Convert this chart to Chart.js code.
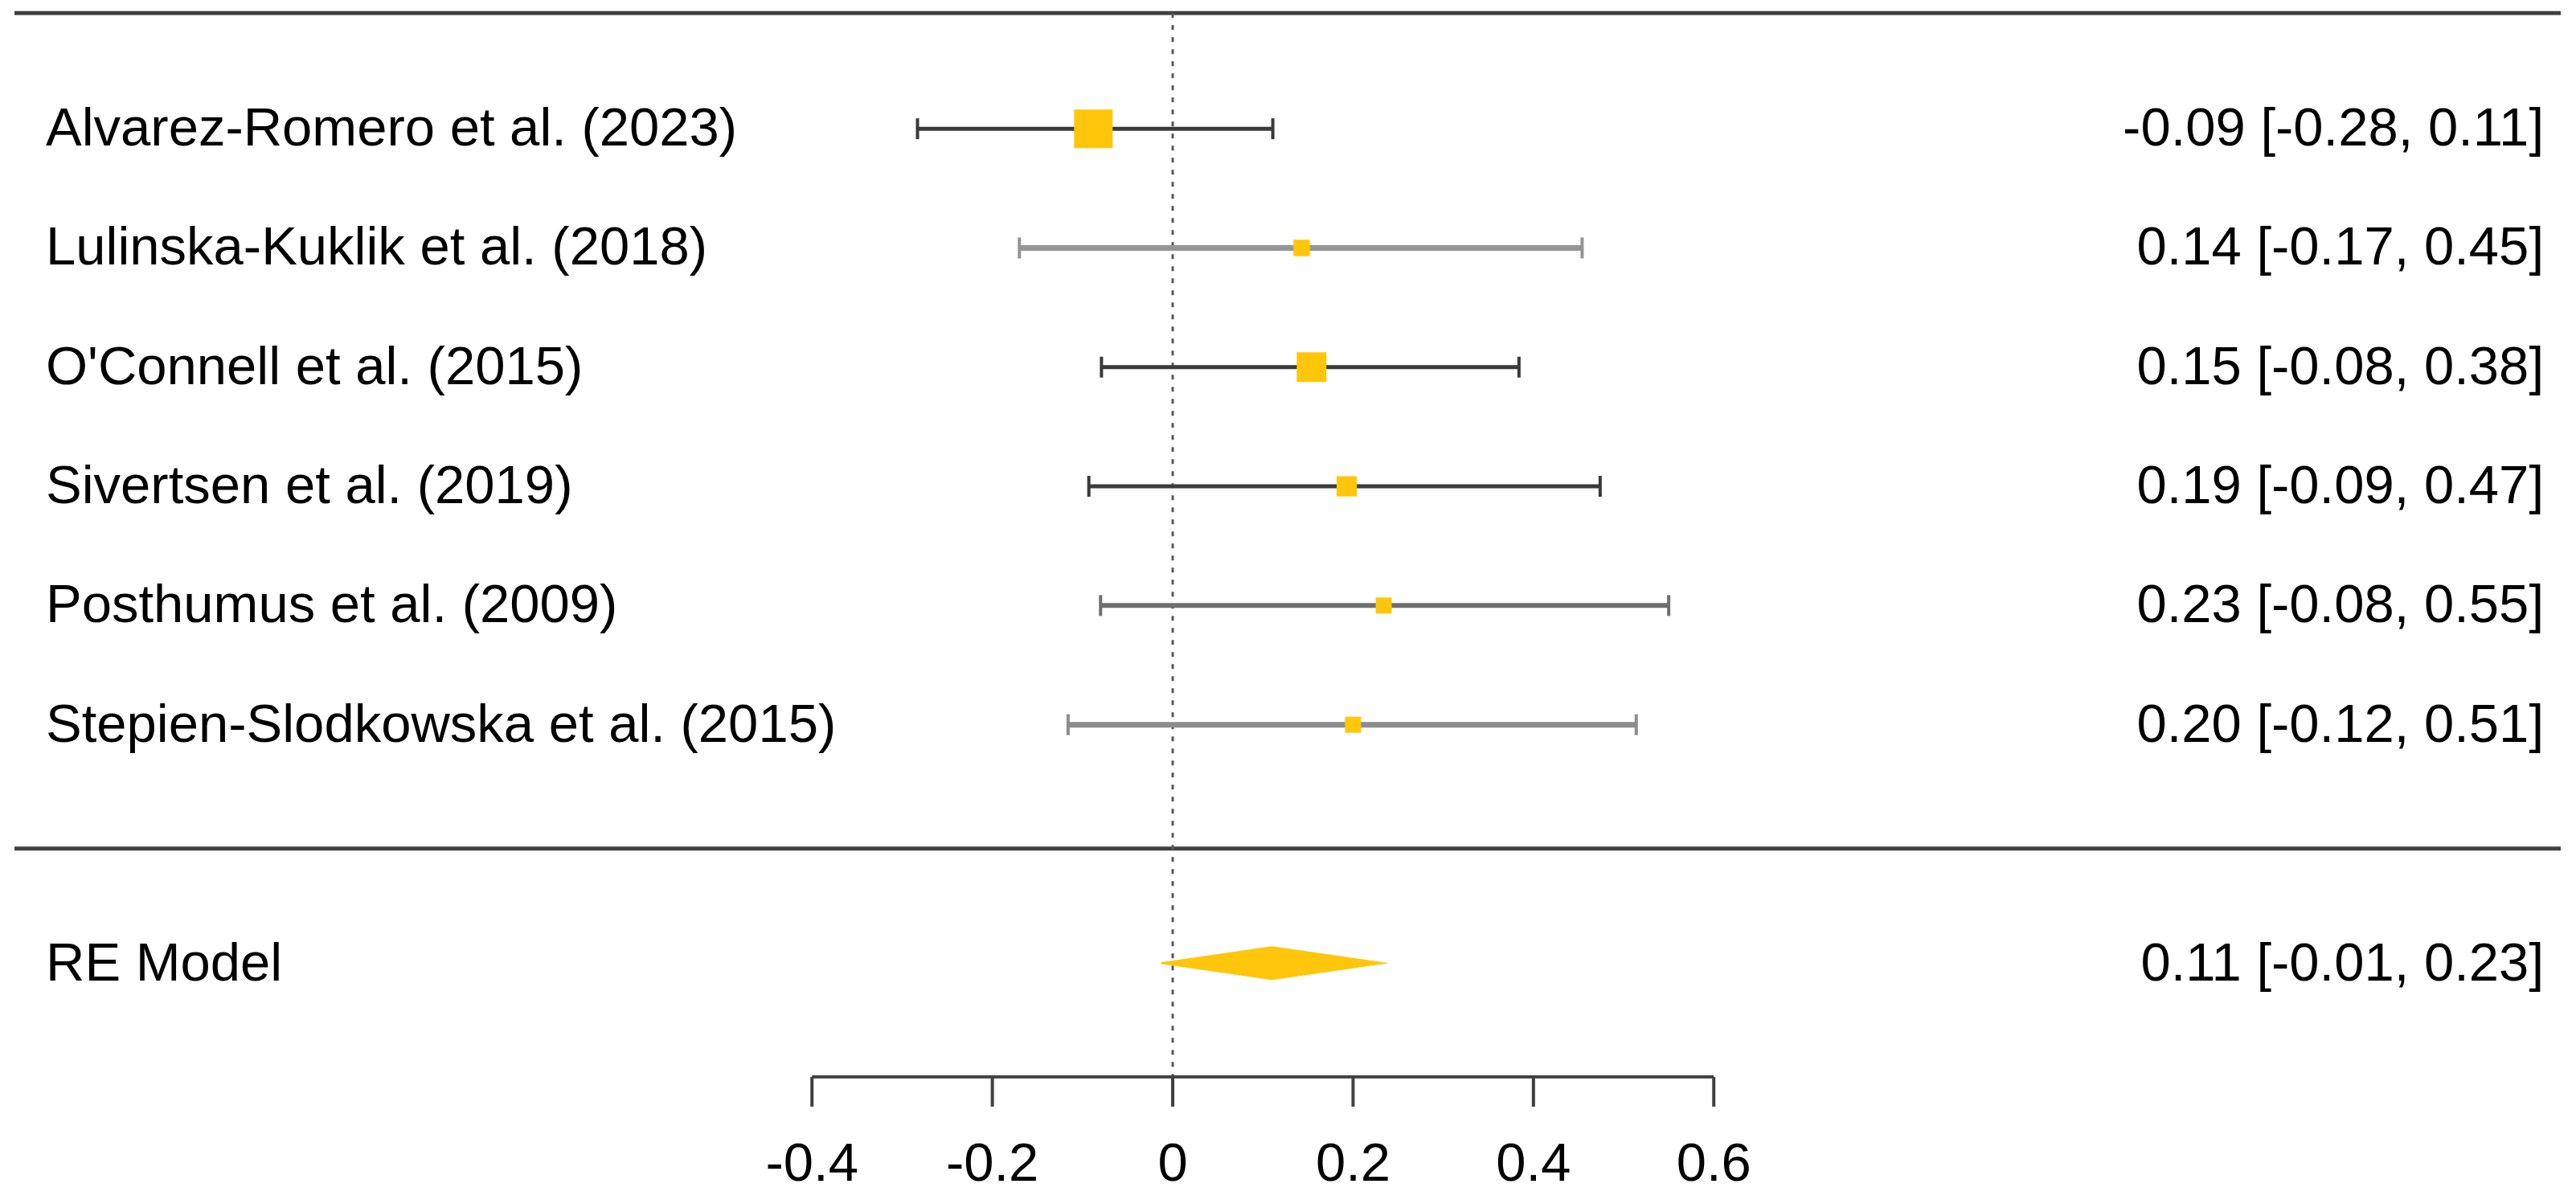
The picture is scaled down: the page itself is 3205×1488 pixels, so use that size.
<!DOCTYPE html>
<html>
<head>
<meta charset="utf-8">
<script src="https://cdn.jsdelivr.net/npm/chart.js@4.4.1/dist/chart.umd.min.js"></script>
<style>
    html, body { margin: 0; padding: 0; background: #ffffff; overflow: hidden; }
    #wrap { width: 3205px; height: 1488px; position: relative; }
</style>
</head>
<body>
<div id="wrap"><canvas id="forest"></canvas></div>
<script>
// Studies, top to bottom
const studies = [
    'Alvarez-Romero et al. (2023)',
    'Lulinska-Kuklik et al. (2018)',
    "O'Connell et al. (2015)",
    'Sivertsen et al. (2019)',
    'Posthumus et al. (2009)',
    'Stepien-Slodkowska et al. (2015)'
];
const rows = [6, 5, 4, 3, 2, 1];
const estimates = [-0.088, 0.143, 0.154, 0.193, 0.234, 0.20];
const lowerCI = [-0.283, -0.17, -0.079, -0.093, -0.080, -0.116];
const upperCI = [0.111, 0.454, 0.384, 0.474, 0.55, 0.514];

// Random-effects summary
const summaryLabel = 'RE Model';
const summaryRow = -1;
const summaryEst = 0.11;
const summaryLower = -0.013;
const summaryUpper = 0.234;

// x axis ticks
const xTicks = [-0.4, -0.2, 0, 0.2, 0.4, 0.6];
const xTickLabels = ['-0.4', '-0.2', '0', '0.2', '0.4', '0.6'];

// Styling
const FONT = '67px "Liberation Sans", Arial, sans-serif';
const LINE_DARK = '#404040';
const ciColors = ['#3a3a3a', '#959595', '#3a3a3a', '#3a3a3a', '#6f6f6f', '#8c8c8c'];
const ciWidths = [5, 7, 5, 5, 6, 7];
const GOLD = '#FFC60B';
const TOP_ROW = 6.97, SEP_ROW = -0.04, AXIS_ROW = -1.955;

function fmt(v) { return v.toFixed(2); }

// Square size follows metafor: linear in 1/SE
const precision = lowerCI.map((lb, i) => 3.92 / (upperCI[i] - lb));
const pMin = Math.min(...precision), pMax = Math.max(...precision);
const squareSide = precision.map(p => 20 + 28 * (p - pMin) / (pMax - pMin));

function buildDatasets() {
    const sets = [];

    // reference line at 0
    sets.push({
        data: [{ x: 0, y: TOP_ROW }, { x: 0, y: AXIS_ROW }],
        showLine: true,
        borderColor: '#595959',
        borderWidth: 3,
        borderDash: [6, 9],
        pointRadius: 0,
        order: 4
    });

    // confidence intervals with end caps
    studies.forEach((s, i) => {
        sets.push({
            data: [{ x: lowerCI[i], y: rows[i] }, { x: upperCI[i], y: rows[i] }],
            showLine: true,
            borderColor: ciColors[i],
            borderWidth: ciWidths[i],
            pointStyle: 'line',
            pointRotation: 90,
            pointRadius: 13,
            pointBorderWidth: 4,
            pointBorderColor: ciColors[i],
            order: 3
        });
    });

    // study squares
    sets.push({
        data: estimates.map((e, i) => ({ x: e, y: rows[i] })),
        showLine: false,
        pointStyle: 'rect',
        pointRadius: squareSide.map(s => s / (2 * Math.SQRT1_2)),
        pointBackgroundColor: GOLD,
        pointBorderWidth: 0,
        order: 1
    });

    // summary diamond
    const h = 0.135;
    sets.push({
        data: [
            { x: summaryLower, y: summaryRow },
            { x: summaryEst, y: summaryRow + h },
            { x: summaryUpper, y: summaryRow },
            { x: summaryEst, y: summaryRow - h },
            { x: summaryLower, y: summaryRow }
        ],
        showLine: true,
        fill: 'shape',
        backgroundColor: GOLD,
        borderColor: GOLD,
        borderWidth: 2,
        tension: 0,
        pointRadius: 0,
        order: 2
    });
    return sets;
}

// Text columns, rule lines and the bottom axis
const forestDecor = {
    id: 'forestDecor',
    beforeDatasetsDraw(chart) {
        const ctx = chart.ctx;
        const y = chart.scales.y;
        ctx.save();
        ctx.strokeStyle = LINE_DARK;
        ctx.lineWidth = 5;
        [TOP_ROW, SEP_ROW].forEach(r => {
            const py = y.getPixelForValue(r);
            ctx.beginPath();
            ctx.moveTo(18, py);
            ctx.lineTo(3186, py);
            ctx.stroke();
        });
        ctx.restore();
    },
    afterDatasetsDraw(chart) {
        const ctx = chart.ctx;
        const x = chart.scales.x;
        const y = chart.scales.y;
        ctx.save();
        ctx.font = FONT;
        ctx.fillStyle = '#000000';
        ctx.textBaseline = 'alphabetic';

        studies.forEach((s, i) => {
            const py = y.getPixelForValue(rows[i]) + 21;
            ctx.textAlign = 'left';
            ctx.fillText(s, 57, py);
            ctx.textAlign = 'right';
            ctx.fillText(fmt(estimates[i]) + ' [' + fmt(lowerCI[i]) + ', ' + fmt(upperCI[i]) + ']', 3165, py);
        });

        const sy = y.getPixelForValue(summaryRow) + 22;
        ctx.textAlign = 'left';
        ctx.fillText(summaryLabel, 57, sy);
        ctx.textAlign = 'right';
        ctx.fillText(fmt(summaryEst) + ' [' + fmt(summaryLower) + ', ' + fmt(summaryUpper) + ']', 3165, sy);

        // axis
        const ay = y.getPixelForValue(AXIS_ROW);
        ctx.strokeStyle = LINE_DARK;
        ctx.lineWidth = 4;
        ctx.beginPath();
        ctx.moveTo(x.getPixelForValue(xTicks[0]), ay);
        ctx.lineTo(x.getPixelForValue(xTicks[xTicks.length - 1]), ay);
        ctx.stroke();
        ctx.textAlign = 'center';
        xTicks.forEach((t, i) => {
            const px = x.getPixelForValue(t);
            ctx.beginPath();
            ctx.moveTo(px, ay);
            ctx.lineTo(px, ay + 37);
            ctx.stroke();
            ctx.fillText(xTickLabels[i], px, ay + 129);
        });
        ctx.restore();
    }
};

document.addEventListener('DOMContentLoaded', () => {
    const ctx = document.getElementById('forest');
    new Chart(ctx, {
        type: 'scatter',
        data: { datasets: buildDatasets() },
        options: {
            responsive: true,
            maintainAspectRatio: false,
            devicePixelRatio: 1,
            animation: false,
            layout: { padding: 0, autoPadding: false },
            plugins: {
                legend: { display: false },
                tooltip: { enabled: false }
            },
            scales: {
                x: { type: 'linear', display: false, bounds: 'data', grace: 0, min: -1.3004, max: 1.5561 },
                y: { type: 'linear', display: false, bounds: 'data', grace: 0, min: -2.954, max: 7.080 }
            }
        },
        plugins: [forestDecor]
    });
});
</script>
</body>
</html>
